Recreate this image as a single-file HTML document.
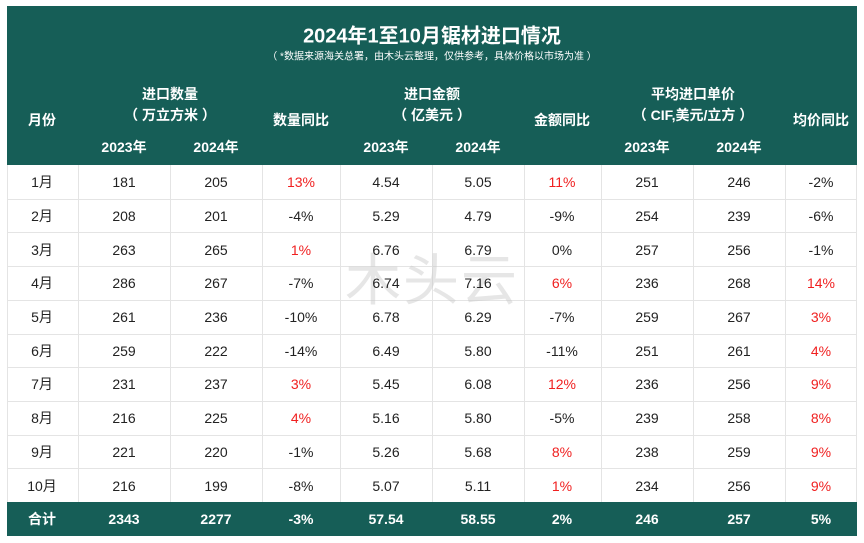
<!DOCTYPE html>
<html><head><meta charset="utf-8"><style>
*{margin:0;padding:0;box-sizing:border-box}
body{width:864px;height:543px;background:#fff;position:relative;overflow:hidden;font-family:"Liberation Sans","Noto Sans CJK SC",sans-serif}
.h{position:absolute;left:7px;top:6px;width:850px;height:159px;background:#165e57}
.f{position:absolute;left:7px;top:502px;width:850px;height:34px;background:#165e57}
.t{position:absolute;transform:translate(-50%,-50%);white-space:nowrap}
.w{color:#fff;font-weight:bold;font-size:14px}
.d{color:#222;font-size:14px}
.r{color:#f02020}
.vl{position:absolute;top:165px;height:337px;width:1px;background:#e4e4e4}
.hl{position:absolute;left:7px;width:850px;height:1px;background:#e4e4e4}
.wm{position:absolute;left:345px;top:236px;font-size:56px;color:rgba(200,200,200,0.45);font-family:"Noto Sans CJK SC",sans-serif;letter-spacing:2px}
</style></head><body>
<div class="h"></div>
<div class="f"></div>
<div class="t w" style="left:432px;top:34px;font-size:20px">2024年1至10月锯材进口情况</div>
<div class="t" style="left:432px;top:55px;font-size:10px;color:#fff">（ *数据来源海关总署，由木头云整理，仅供参考，具体价格以市场为准 ）</div>
<div class="t w" style="left:42px;top:120px">月份</div>
<div class="t w" style="left:170px;top:94px">进口数量</div>
<div class="t w" style="left:170px;top:115px">（ 万立方米 ）</div>
<div class="t w" style="left:124px;top:147px">2023年</div>
<div class="t w" style="left:216px;top:147px">2024年</div>
<div class="t w" style="left:301px;top:120px">数量同比</div>
<div class="t w" style="left:432px;top:94px">进口金额</div>
<div class="t w" style="left:432px;top:115px">（ 亿美元 ）</div>
<div class="t w" style="left:386px;top:147px">2023年</div>
<div class="t w" style="left:478px;top:147px">2024年</div>
<div class="t w" style="left:562px;top:120px">金额同比</div>
<div class="t w" style="left:693px;top:94px">平均进口单价</div>
<div class="t w" style="left:693px;top:115px">（ CIF,美元/立方 ）</div>
<div class="t w" style="left:647px;top:147px">2023年</div>
<div class="t w" style="left:739px;top:147px">2024年</div>
<div class="t w" style="left:821px;top:120px">均价同比</div>

<div class="vl" style="left:7px"></div><div class="vl" style="left:78px"></div><div class="vl" style="left:170px"></div><div class="vl" style="left:262px"></div><div class="vl" style="left:340px"></div><div class="vl" style="left:432px"></div><div class="vl" style="left:524px"></div><div class="vl" style="left:601px"></div><div class="vl" style="left:693px"></div><div class="vl" style="left:785px"></div><div class="vl" style="left:856px"></div>
<div class="hl" style="top:199px"></div><div class="hl" style="top:232px"></div><div class="hl" style="top:266px"></div><div class="hl" style="top:300px"></div><div class="hl" style="top:334px"></div><div class="hl" style="top:367px"></div><div class="hl" style="top:401px"></div><div class="hl" style="top:435px"></div><div class="hl" style="top:468px"></div>

<div class="wm">木头云</div>

<div style="position:absolute;left:0;top:0">
<!-- rows -->
<div class="t d" style="left:42px;top:182px">1月</div><div class="t d" style="left:124px;top:182px">181</div><div class="t d" style="left:216px;top:182px">205</div><div class="t d r" style="left:301px;top:182px">13%</div><div class="t d" style="left:386px;top:182px">4.54</div><div class="t d" style="left:478px;top:182px">5.05</div><div class="t d r" style="left:562px;top:182px">11%</div><div class="t d" style="left:647px;top:182px">251</div><div class="t d" style="left:739px;top:182px">246</div><div class="t d" style="left:821px;top:182px">-2%</div>
<div class="t d" style="left:42px;top:216px">2月</div><div class="t d" style="left:124px;top:216px">208</div><div class="t d" style="left:216px;top:216px">201</div><div class="t d" style="left:301px;top:216px">-4%</div><div class="t d" style="left:386px;top:216px">5.29</div><div class="t d" style="left:478px;top:216px">4.79</div><div class="t d" style="left:562px;top:216px">-9%</div><div class="t d" style="left:647px;top:216px">254</div><div class="t d" style="left:739px;top:216px">239</div><div class="t d" style="left:821px;top:216px">-6%</div>
<div class="t d" style="left:42px;top:250px">3月</div><div class="t d" style="left:124px;top:250px">263</div><div class="t d" style="left:216px;top:250px">265</div><div class="t d r" style="left:301px;top:250px">1%</div><div class="t d" style="left:386px;top:250px">6.76</div><div class="t d" style="left:478px;top:250px">6.79</div><div class="t d" style="left:562px;top:250px">0%</div><div class="t d" style="left:647px;top:250px">257</div><div class="t d" style="left:739px;top:250px">256</div><div class="t d" style="left:821px;top:250px">-1%</div>
<div class="t d" style="left:42px;top:283px">4月</div><div class="t d" style="left:124px;top:283px">286</div><div class="t d" style="left:216px;top:283px">267</div><div class="t d" style="left:301px;top:283px">-7%</div><div class="t d" style="left:386px;top:283px">6.74</div><div class="t d" style="left:478px;top:283px">7.16</div><div class="t d r" style="left:562px;top:283px">6%</div><div class="t d" style="left:647px;top:283px">236</div><div class="t d" style="left:739px;top:283px">268</div><div class="t d r" style="left:821px;top:283px">14%</div>
<div class="t d" style="left:42px;top:317px">5月</div><div class="t d" style="left:124px;top:317px">261</div><div class="t d" style="left:216px;top:317px">236</div><div class="t d" style="left:301px;top:317px">-10%</div><div class="t d" style="left:386px;top:317px">6.78</div><div class="t d" style="left:478px;top:317px">6.29</div><div class="t d" style="left:562px;top:317px">-7%</div><div class="t d" style="left:647px;top:317px">259</div><div class="t d" style="left:739px;top:317px">267</div><div class="t d r" style="left:821px;top:317px">3%</div>
<div class="t d" style="left:42px;top:351px">6月</div><div class="t d" style="left:124px;top:351px">259</div><div class="t d" style="left:216px;top:351px">222</div><div class="t d" style="left:301px;top:351px">-14%</div><div class="t d" style="left:386px;top:351px">6.49</div><div class="t d" style="left:478px;top:351px">5.80</div><div class="t d" style="left:562px;top:351px">-11%</div><div class="t d" style="left:647px;top:351px">251</div><div class="t d" style="left:739px;top:351px">261</div><div class="t d r" style="left:821px;top:351px">4%</div>
<div class="t d" style="left:42px;top:384px">7月</div><div class="t d" style="left:124px;top:384px">231</div><div class="t d" style="left:216px;top:384px">237</div><div class="t d r" style="left:301px;top:384px">3%</div><div class="t d" style="left:386px;top:384px">5.45</div><div class="t d" style="left:478px;top:384px">6.08</div><div class="t d r" style="left:562px;top:384px">12%</div><div class="t d" style="left:647px;top:384px">236</div><div class="t d" style="left:739px;top:384px">256</div><div class="t d r" style="left:821px;top:384px">9%</div>
<div class="t d" style="left:42px;top:418px">8月</div><div class="t d" style="left:124px;top:418px">216</div><div class="t d" style="left:216px;top:418px">225</div><div class="t d r" style="left:301px;top:418px">4%</div><div class="t d" style="left:386px;top:418px">5.16</div><div class="t d" style="left:478px;top:418px">5.80</div><div class="t d" style="left:562px;top:418px">-5%</div><div class="t d" style="left:647px;top:418px">239</div><div class="t d" style="left:739px;top:418px">258</div><div class="t d r" style="left:821px;top:418px">8%</div>
<div class="t d" style="left:42px;top:452px">9月</div><div class="t d" style="left:124px;top:452px">221</div><div class="t d" style="left:216px;top:452px">220</div><div class="t d" style="left:301px;top:452px">-1%</div><div class="t d" style="left:386px;top:452px">5.26</div><div class="t d" style="left:478px;top:452px">5.68</div><div class="t d r" style="left:562px;top:452px">8%</div><div class="t d" style="left:647px;top:452px">238</div><div class="t d" style="left:739px;top:452px">259</div><div class="t d r" style="left:821px;top:452px">9%</div>
<div class="t d" style="left:42px;top:486px">10月</div><div class="t d" style="left:124px;top:486px">216</div><div class="t d" style="left:216px;top:486px">199</div><div class="t d" style="left:301px;top:486px">-8%</div><div class="t d" style="left:386px;top:486px">5.07</div><div class="t d" style="left:478px;top:486px">5.11</div><div class="t d r" style="left:562px;top:486px">1%</div><div class="t d" style="left:647px;top:486px">234</div><div class="t d" style="left:739px;top:486px">256</div><div class="t d r" style="left:821px;top:486px">9%</div>
<!-- total -->
<div class="t w" style="left:42px;top:519px">合计</div><div class="t w" style="left:124px;top:519px">2343</div><div class="t w" style="left:216px;top:519px">2277</div><div class="t w" style="left:301px;top:519px">-3%</div><div class="t w" style="left:386px;top:519px">57.54</div><div class="t w" style="left:478px;top:519px">58.55</div><div class="t w" style="left:562px;top:519px">2%</div><div class="t w" style="left:647px;top:519px">246</div><div class="t w" style="left:739px;top:519px">257</div><div class="t w" style="left:821px;top:519px">5%</div>
</div>
</body></html>
